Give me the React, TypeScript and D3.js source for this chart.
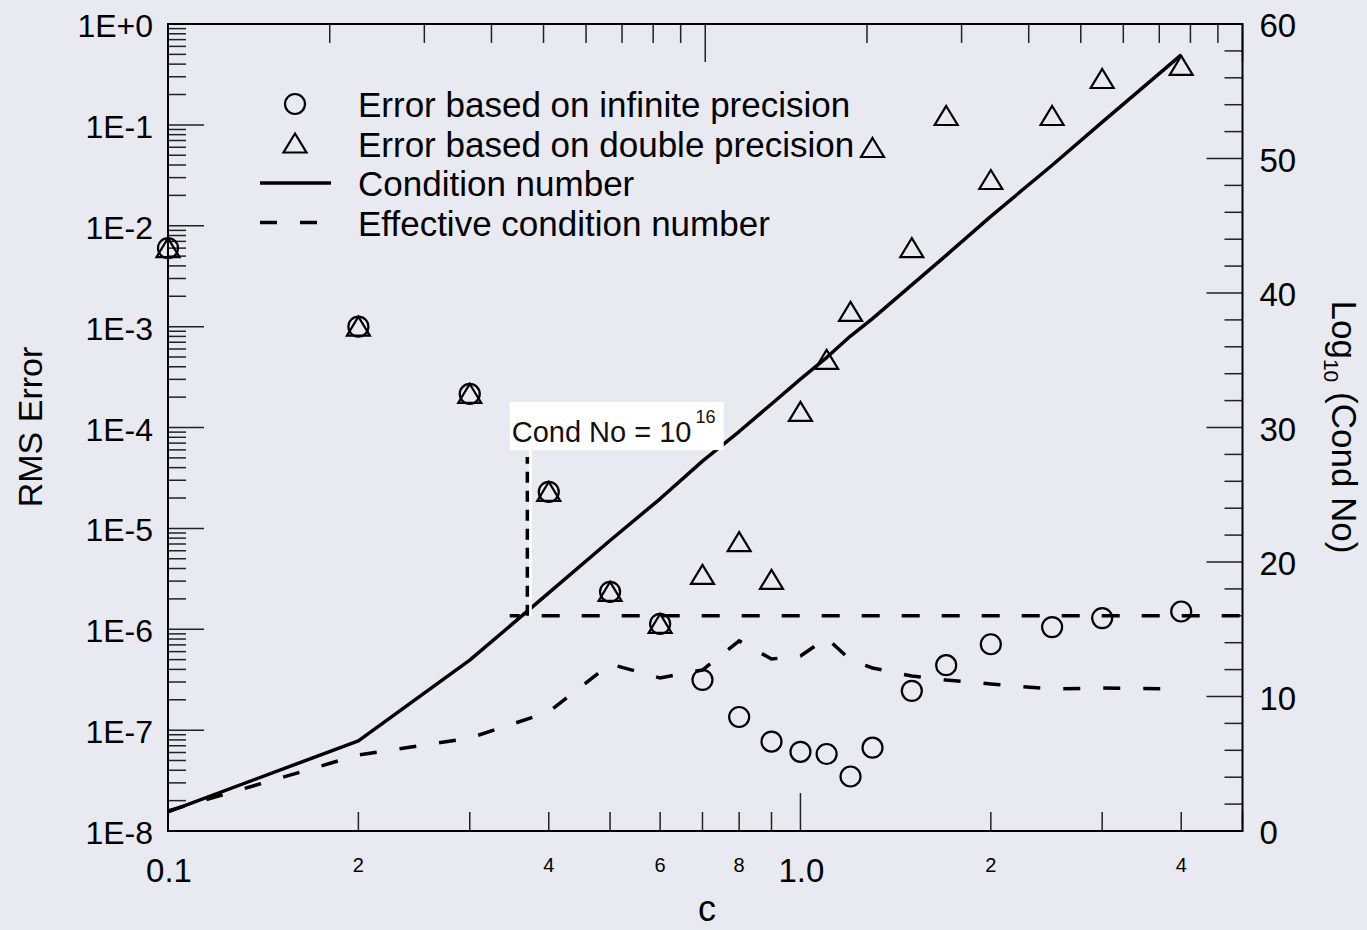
import React from 'react';
import * as d3 from 'd3';

// Shape parameter values at which the errors and condition numbers were computed
const cValues = [0.1, 0.2, 0.3, 0.4, 0.5, 0.6, 0.7, 0.8, 0.9, 1.0, 1.1, 1.2, 1.3, 1.5, 1.7, 2.0, 2.5, 3.0, 4.0];

// RMS error, infinite-precision arithmetic
const errInfinite = [6.0e-3, 1.0e-3, 2.15e-4, 2.3e-5, 2.35e-6, 1.13e-6, 3.15e-7, 1.35e-7, 7.7e-8, 6.1e-8, 5.8e-8, 3.47e-8, 6.7e-8, 2.45e-7, 4.4e-7, 7.1e-7, 1.05e-6, 1.29e-6, 1.5e-6];

// RMS error, double-precision arithmetic
const errDouble = [6.0e-3, 1.0e-3, 2.15e-4, 2.3e-5, 2.35e-6, 1.13e-6, 3.46e-6, 7.3e-6, 3.09e-6, 1.43e-4, 4.68e-4, 1.4e-3, 5.9e-2, 6.0e-3, 0.1225, 2.84e-2, 0.1225, 0.285, 0.384];

// log10 of the condition number
const condNumber = [1.43, 6.7, 12.7, 17.7, 21.6, 24.7, 27.5, 29.7, 31.75, 33.6, 35.2, 36.8, 38.1, 40.6, 42.8, 45.7, 49.5, 52.7, 57.7];

// log10 of the effective condition number
const effCondNumber = [1.49, 5.65, 6.91, 8.85, 12.42, 11.38, 11.97, 14.13, 12.79, 13.01, 14.35, 12.71, 12.12, 11.52, 11.23, 10.93, 10.56, 10.63, 10.56];

// Double-precision limit marker (log10 cond = 16)
const condLimit = 16;
const limitStartC = 0.347;
const limitCrossC = 0.37;
const limitLabelLevel = 27.8;

// Axis labelling
const bottomMajorLabels = [{ v: 0.1, t: '0.1' }, { v: 1.0, t: '1.0' }];
const bottomMinorLabels = [{ v: 0.2, t: '2' }, { v: 0.4, t: '4' }, { v: 0.6, t: '6' }, { v: 0.8, t: '8' }, { v: 2, t: '2' }, { v: 4, t: '4' }];
const leftLabels = ['1E+0', '1E-1', '1E-2', '1E-3', '1E-4', '1E-5', '1E-6', '1E-7', '1E-8'];
const rightLabels = [0, 10, 20, 30, 40, 50, 60];

const legendItems = [
  { kind: 'circle', text: 'Error based on infinite precision' },
  { kind: 'triangle', text: 'Error based on double precision' },
  { kind: 'solid', text: 'Condition number' },
  { kind: 'dashed', text: 'Effective condition number' },
];

const W = 1367;
const H = 930;
const FONT = 'Arial, "Liberation Sans", Helvetica, sans-serif';

const isDecade = (v: number) => Math.abs(Math.log10(v) - Math.round(Math.log10(v))) < 1e-9;

function Triangle({ cx, cy }: { cx: number; cy: number }) {
  const p = `M${cx},${cy - 10} L${cx + 11.5},${cy + 9} L${cx - 11.5},${cy + 9} Z`;
  return <path d={p} fill="none" stroke="#000" strokeWidth={2.2} strokeLinejoin="miter" />;
}

export default function App() {
  const left = 168, right = 1242.5, top = 24, bottom = 831;
  const x = d3.scaleLog().domain([0.1, 5]).range([left, right]);
  const xTop = d3.scaleLog().domain([1, 100]).range([left, right]);
  const yErr = d3.scaleLog().domain([1e-8, 1]).range([bottom, top]);
  const yCond = d3.scaleLinear().domain([0, 60]).range([bottom, top]);

  const condLine = d3.line<number>().x((_, i) => x(cValues[i])).y((d) => yCond(d));

  const leftTicks = yErr.ticks();
  const bottomTicks = x.ticks();
  const topTicks = xTop.ticks();
  const rightTicks = d3.range(0, 61, 2);

  const xLimit = x(limitCrossC);
  const yLimit = yCond(condLimit);
  const yLabel = yCond(limitLabelLevel);
  const boxLeft = x(limitStartC);

  return (
    <svg width={W} height={H} style={{ position: 'absolute', left: 0, top: 0 }} fontFamily={FONT}>
      <rect x={0} y={0} width={W} height={H} fill="#e9e9f1" />

      {/* left axis ticks (log RMS error) */}
      {leftTicks.map((v, i) => (
        <line key={'lt' + i} x1={left} x2={left + (isDecade(v) ? 36 : 18)} y1={yErr(v)} y2={yErr(v)} stroke="#222" strokeWidth={1.5} />
      ))}
      {leftLabels.map((t, i) => (
        <text key={'ll' + i} x={153} y={yErr(Math.pow(10, -i)) + 13} fontSize={32} textAnchor="end" fill="#000">{t}</text>
      ))}

      {/* right axis ticks (log10 condition number) */}
      {rightTicks.map((v) => (
        <line key={'rt' + v} x1={right - (v % 10 === 0 ? 36 : 18)} x2={right} y1={yCond(v)} y2={yCond(v)} stroke="#222" strokeWidth={1.5} />
      ))}
      {rightLabels.map((v) => (
        <text key={'rl' + v} x={right + 17} y={yCond(v) + 13} fontSize={33} fill="#000">{v}</text>
      ))}

      {/* bottom axis ticks (c) */}
      {bottomTicks.map((v, i) => (
        <line key={'bt' + i} x1={x(v)} x2={x(v)} y1={bottom} y2={bottom - (isDecade(v) ? 38 : 19)} stroke="#222" strokeWidth={1.5} />
      ))}
      {bottomMajorLabels.map((d) => (
        <text key={'bM' + d.t} x={x(d.v) + 1} y={bottom + 51} fontSize={33} textAnchor="middle" fill="#000">{d.t}</text>
      ))}
      {bottomMinorLabels.map((d, i) => (
        <text key={'bm' + i} x={x(d.v)} y={bottom + 41} fontSize={20} textAnchor="middle" fill="#000">{d.t}</text>
      ))}

      {/* top axis ticks */}
      {topTicks.map((v, i) => (
        <line key={'tt' + i} x1={xTop(v)} x2={xTop(v)} y1={top} y2={top + (isDecade(v) ? 38 : 19)} stroke="#222" strokeWidth={1.5} />
      ))}

      {/* frame */}
      <rect x={left} y={top} width={right - left} height={bottom - top} fill="none" stroke="#000" strokeWidth={2} />

      {/* axis titles */}
      <text x={707} y={921} fontSize={36} textAnchor="middle" fill="#000">c</text>
      <text transform={`translate(42,427) rotate(-90)`} fontSize={34} textAnchor="middle" fill="#000">RMS Error</text>
      <text transform={`translate(1332,427) rotate(90)`} fontSize={35} textAnchor="middle" fill="#000">
        Log<tspan fontSize={21} dy={8}>10</tspan><tspan dy={-8}> (Cond No)</tspan>
      </text>

      {/* condition number curves */}
      <path d={condLine(condNumber) || ''} fill="none" stroke="#000" strokeWidth={3.5} strokeLinejoin="round" />
      <path d={condLine(effCondNumber) || ''} fill="none" stroke="#000" strokeWidth={3.5} strokeDasharray="17 23" />

      {/* double precision limit */}
      <line x1={boxLeft} x2={right} y1={yLimit} y2={yLimit} stroke="#000" strokeWidth={3.5} strokeDasharray="18 22" strokeDashoffset={8} />
      <line x1={xLimit + 3} x2={xLimit + 3} y1={yLimit} y2={yLabel - 7} stroke="#fff" strokeWidth={3} />
      <line x1={xLimit} x2={xLimit} y1={yLimit} y2={yLabel} stroke="#000" strokeWidth={3.5} strokeDasharray="11 8" />
      <rect x={boxLeft} y={yLabel - 55} width={214} height={48} fill="#fff" />
      <text x={boxLeft + 2} y={yLabel - 15} fontSize={29} fill="#111">
        Cond No = 10<tspan fontSize={18} dx={4} dy={-19}>16</tspan>
      </text>

      {/* error markers */}
      {cValues.map((c, i) => (
        <circle key={'ci' + i} cx={x(c)} cy={yErr(errInfinite[i])} r={10} fill="none" stroke="#000" strokeWidth={2.2} />
      ))}
      {cValues.map((c, i) => (
        <Triangle key={'tr' + i} cx={x(c)} cy={yErr(errDouble[i])} />
      ))}

      {/* legend */}
      {legendItems.map((item, i) => {
        const cy = 104 + i * 39.5;
        return (
          <g key={'lg' + i}>
            {item.kind === 'circle' && <circle cx={295} cy={cy} r={10} fill="none" stroke="#000" strokeWidth={2.2} />}
            {item.kind === 'triangle' && <Triangle cx={295} cy={cy} />}
            {item.kind === 'solid' && <line x1={260} x2={331} y1={cy} y2={cy} stroke="#000" strokeWidth={3.5} />}
            {item.kind === 'dashed' && <line x1={260} x2={320} y1={cy} y2={cy} stroke="#000" strokeWidth={3.5} strokeDasharray="17 23" />}
            <text x={358} y={cy + 13} fontSize={35} fill="#000">{item.text}</text>
          </g>
        );
      })}
    </svg>
  );
}
